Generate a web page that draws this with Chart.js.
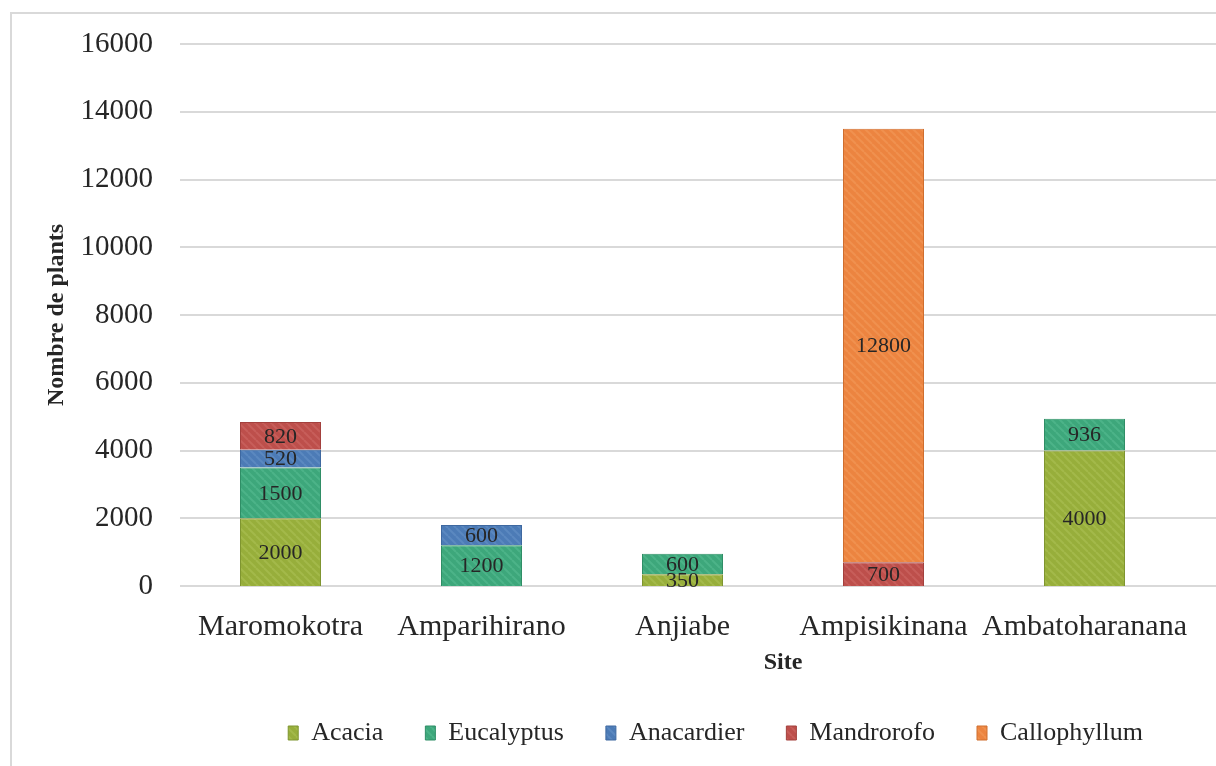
<!DOCTYPE html>
<html lang="fr">
<head>
    <meta charset="UTF-8">
    <title>Nombre de plants par site</title>
    <script src="https://cdn.jsdelivr.net/npm/chart.js"></script>
    <style>
        body { margin: 0; background: #fff; overflow: hidden; }
        .cadre {
            position: absolute; left: 10px; top: 12px;
            width: 1260px; height: 800px;
            border: 2px solid #d9d9d9;
        }
        #grafico { position: absolute; left: 0; top: 0; }
    </style>
</head>
<body>
    <div class="cadre"></div>
    <canvas id="grafico" width="1216" height="766"></canvas>

<script>
    // donnees
    const sites = ['Maromokotra', 'Amparihirano', 'Anjiabe', 'Ampisikinana', 'Ambatoharanana'];
    const acacia = [2000, null, 350, null, 4000];
    const eucalyptus = [1500, 1200, 600, null, 936];
    const anacardier = [520, 600, null, null, null];
    const mandrorofo = [820, null, null, 700, null];
    const callophyllum = [null, null, null, 12800, null];
    const yMax = 16000;
    const yStep = 2000;

    const serif = "'Liberation Serif', 'DejaVu Serif', serif";

    // petite texture hachuree comme dans Excel
    function hachure(base, raie) {
        const c = document.createElement('canvas');
        c.width = 8; c.height = 8;
        const g = c.getContext('2d');
        g.fillStyle = base;
        g.fillRect(0, 0, 8, 8);
        g.strokeStyle = raie;
        g.lineWidth = 2;
        for (let i = -8; i <= 16; i += 8) {
            g.beginPath();
            g.moveTo(i, 0);
            g.lineTo(i + 8, 8);
            g.stroke();
        }
        return g.createPattern(c, 'repeat');
    }

    function serie(label, data, base, raie, bord) {
        return {
            label: label,
            data: data,
            backgroundColor: hachure(base, raie),
            borderColor: bord,
            borderWidth: 1,
            barPercentage: 0.403,
            categoryPercentage: 1
        };
    }

    // lignes de grille jusqu'au bord droit
    const grille = {
        id: 'grille',
        beforeDatasetsDraw(chart) {
            const ctx = chart.ctx;
            const y = chart.scales.y;
            ctx.save();
            ctx.strokeStyle = '#d9d9d9';
            ctx.lineWidth = 2;
            y.ticks.forEach((t) => {
                const py = Math.round(y.getPixelForValue(t.value));
                ctx.beginPath();
                ctx.moveTo(chart.chartArea.left, py);
                ctx.lineTo(chart.width, py);
                ctx.stroke();
            });
            ctx.restore();
        }
    };

    // etiquettes de valeurs au centre des segments + titre "Site"
    const etiquettes = {
        id: 'etiquettes',
        afterDatasetsDraw(chart) {
            const ctx = chart.ctx;
            ctx.save();
            ctx.font = '22px ' + serif;
            ctx.fillStyle = '#262626';
            ctx.textAlign = 'center';
            ctx.textBaseline = 'middle';
            chart.data.datasets.forEach((ds, i) => {
                const meta = chart.getDatasetMeta(i);
                meta.data.forEach((bar, j) => {
                    const v = ds.data[j];
                    if (v == null) return;
                    ctx.fillText(v, bar.x, (bar.y + bar.base) / 2 + 1);
                });
            });

            // titre de l'axe x, place entre Anjiabe et Ampisikinana comme dans l'original
            const x = chart.scales.x;
            const tx = (x.getPixelForValue(2) + x.getPixelForValue(3)) / 2;
            ctx.font = 'bold 24px ' + serif;
            ctx.fillText('Site', tx, 663);
            ctx.restore();
        }
    };

    new Chart(document.getElementById('grafico'), {
        type: 'bar',
        data: {
            labels: sites,
            datasets: [
                serie('Acacia', acacia, '#97ae3b', '#a3b94a', '#7f9530'),
                serie('Eucalyptus', eucalyptus, '#3da77b', '#4cb388', '#2f8e66'),
                serie('Anacardier', anacardier, '#4c7bb6', '#5b88c0', '#3e68a0'),
                serie('Mandrorofo', mandrorofo, '#bd4f4b', '#c75e5a', '#a3403d'),
                serie('Callophyllum', callophyllum, '#ec8440', '#f0914f', '#cf6e2f')
            ]
        },
        options: {
            responsive: false,
            animation: false,
            layout: { padding: { top: 44, right: 31, bottom: 10, left: 0 } },
            plugins: {
                tooltip: { enabled: false },
                legend: {
                    position: 'bottom',
                    align: 'end',
                    labels: {
                        font: { family: serif, size: 26 },
                        color: '#262626',
                        boxWidth: 10,
                        boxHeight: 14,
                        padding: 42
                    }
                }
            },
            scales: {
                x: {
                    stacked: true,
                    grid: { display: false },
                    border: { display: false },
                    ticks: {
                        font: { family: serif, size: 30 },
                        color: '#262626',
                        padding: 15,
                        maxRotation: 0,
                        autoSkip: false
                    },
                    afterFit(scale) { scale.height = 92; }
                },
                y: {
                    stacked: true,
                    min: 0,
                    max: yMax,
                    grid: { display: false },
                    border: { display: false },
                    ticks: {
                        stepSize: yStep,
                        font: { family: serif, size: 29 },
                        color: '#262626',
                        padding: 19,
                        callback: (v) => String(v)
                    },
                    title: {
                        display: true,
                        text: 'Nombre de plants',
                        font: { family: serif, size: 24, weight: 'bold' },
                        color: '#262626',
                        padding: { top: 42, bottom: 0 }
                    },
                    afterFit(scale) { scale.width = 180; }
                }
            }
        },
        plugins: [grille, etiquettes]
    });
</script>
</body>
</html>
